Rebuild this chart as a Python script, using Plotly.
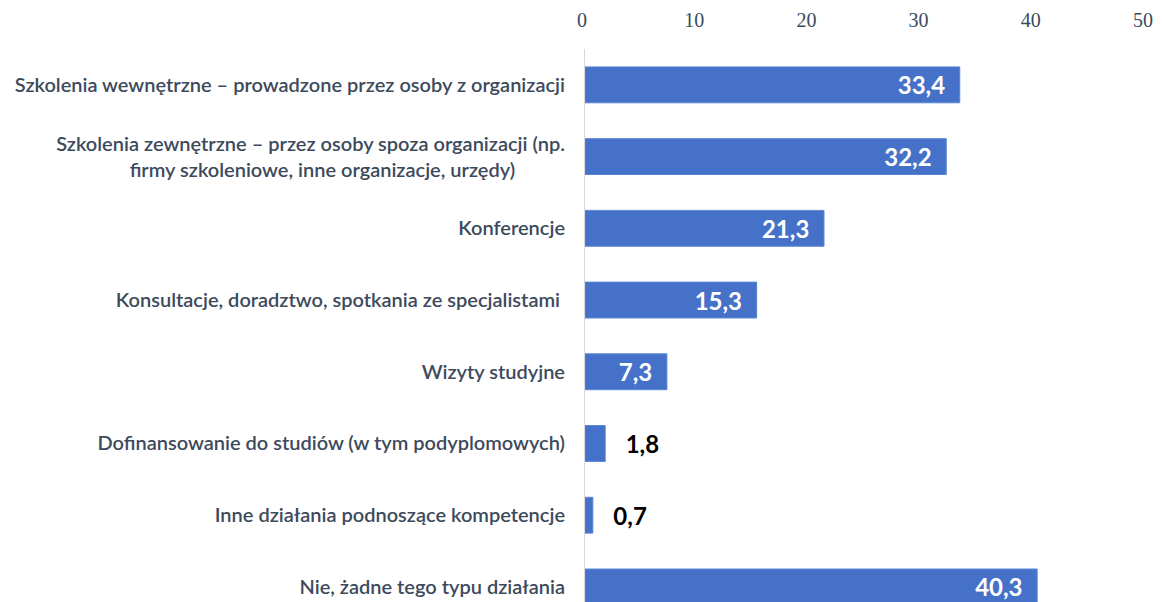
import plotly.graph_objects as go

categories = [
    "Szkolenia wewnętrzne – prowadzone przez osoby z organizacji",
    "Szkolenia zewnętrzne – przez osoby spoza organizacji (np.<br>firmy szkoleniowe, inne organizacje, urzędy)",
    "Konferencje",
    "Konsultacje, doradztwo, spotkania ze specjalistami",
    "Wizyty studyjne",
    "Dofinansowanie do studiów (w tym podyplomowych)",
    "Inne działania podnoszące kompetencje",
    "Nie, żadne tego typu działania",
]
values = [33.4, 32.2, 21.3, 15.3, 7.3, 1.8, 0.7, 40.3]
x_ticks = [0, 10, 20, 30, 40, 50]

# visual tweaks to label text (trailing non-breaking spaces to shift alignment)
tick_text = list(categories)
tick_text[1] = tick_text[1] + "\u00a0" * 10
tick_text[3] = tick_text[3] + "\u00a0"

inside = [v >= 5 for v in values]
labels = []
for v, ins in zip(values, inside):
    s = f"{v:.1f}".replace(".", ",")
    labels.append(s + "\u00a0\u00a0" if ins else "\u00a0\u00a0\u00a0" + s)

# page body has an 8px default margin; size figure to fill the 1162x602 window
W, H, OFF = 1162, 602, 8

fig = go.Figure(go.Bar(
    x=values,
    y=list(range(len(categories))),
    orientation="h",
    width=0.5,
    marker=dict(color="#4572c8", line=dict(color="#5a86d8", width=1)),
    text=labels,
    textposition=["inside" if i else "outside" for i in inside],
    insidetextanchor="end",
    textfont=dict(family="Lato", size=24, color=["#ffffff" if i else "#000000" for i in inside], weight="bold"),
    cliponaxis=False,
    hoverinfo="skip",
))

fig.update_layout(
    width=W - OFF, height=H - OFF,
    margin=dict(l=585 - OFF, r=16, t=49 - OFF, b=0),
    plot_bgcolor="white", paper_bgcolor="white",
    showlegend=False,
    uniformtext=dict(mode=False),
)
fig.update_xaxes(
    side="top", range=[0, 50], tickvals=x_ticks, automargin=False,
    showgrid=False, zeroline=False, showline=False,
    tickfont=dict(family="Liberation Serif", size=20, color="#3a4a5c"),
    ticks="", ticklabelstandoff=17, ticklabelshift=-3, ticklabeloverflow="allow",
)
fig.update_yaxes(
    range=[7.21, -0.5], tickvals=list(range(len(categories))), ticktext=tick_text,
    automargin=False,
    showgrid=False, zeroline=False, showline=True, linecolor="#d9d9d9", linewidth=1,
    tickfont=dict(family="Lato", size=20, color="#3d4a5c", weight=600),
    ticks="", ticklabelstandoff=15,
)

fig.write_html("out.html")
